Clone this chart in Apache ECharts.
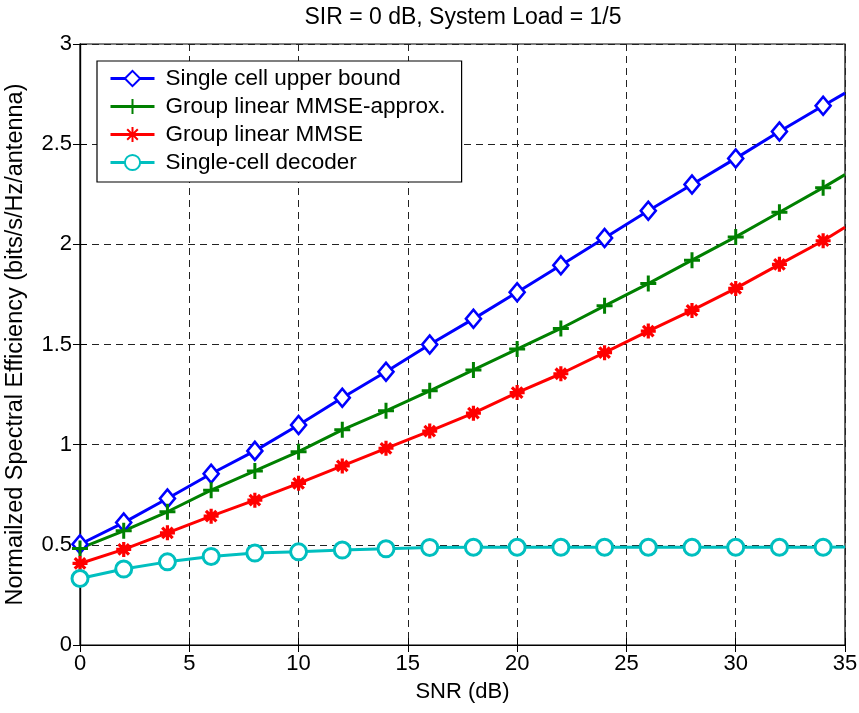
<!DOCTYPE html>
<html>
<head>
<meta charset="utf-8">
<script src="https://cdn.jsdelivr.net/npm/echarts@6/dist/echarts.min.js"></script>
<style>
  html, body { margin: 0; padding: 0; background: #fff; }
  #chart { width: 859px; height: 713px; }
</style>
</head>
<body>
<div id="chart"></div>
<script>
// SNR points (dB); markers every 2 dB, curves run on to 35 dB
const snr = [0, 2, 4, 6, 8, 10, 12, 14, 16, 18, 20, 22, 24, 26, 28, 30, 32, 34, 35];

const upperBound = [0.503, 0.611, 0.731, 0.855, 0.969, 1.098, 1.234, 1.364, 1.500, 1.628,
                    1.761, 1.896, 2.032, 2.168, 2.299, 2.429, 2.563, 2.692, 2.755];
const mmseApprox = [0.482, 0.570, 0.665, 0.773, 0.869, 0.965, 1.074, 1.169, 1.269, 1.373,
                    1.477, 1.580, 1.693, 1.804, 1.921, 2.037, 2.160, 2.283, 2.348];
const mmse       = [0.407, 0.477, 0.560, 0.643, 0.723, 0.807, 0.894, 0.982, 1.068, 1.157,
                    1.260, 1.354, 1.459, 1.567, 1.670, 1.780, 1.900, 2.018, 2.085];
const singleCell = [0.332, 0.379, 0.415, 0.442, 0.459, 0.465, 0.474, 0.480, 0.487, 0.488,
                    0.488, 0.488, 0.488, 0.488, 0.488, 0.488, 0.488, 0.488, 0.489];

const seriesNames = ['Single cell upper bound', 'Group linear MMSE-approx.', 'Group linear MMSE', 'Single-cell decoder'];
const xTicks = { min: 0, max: 35, interval: 5 };
const yTicks = { min: 0, max: 3, interval: 0.5 };

const FONT = 'Liberation Sans, Arial, sans-serif';
const PLUS = 'path://M6,0L6,12M0,6L12,6';
const STAR = 'path://M6,0L6,12M0,6L12,6M1.8,1.8L10.2,10.2M10.2,1.8L1.8,10.2';

function pairs(ys) {
  return snr.map((x, i) => {
    const item = { value: [x, ys[i]] };
    if (x % 2 !== 0) item.symbol = 'none';
    return item;
  });
}

function lineSeries(name, ys, color, symbol, size, fill, border) {
  return {
    name: name,
    type: 'line',
    data: pairs(ys),
    symbol: symbol,
    symbolSize: size,
    showAllSymbol: true,
    lineStyle: { color: color, width: 3 },
    itemStyle: { color: fill, borderColor: color, borderWidth: border },
    emphasis: { disabled: true },
    animation: false,
    z: 3
  };
}

const chart = echarts.init(document.getElementById('chart'), null, { renderer: 'canvas' });

const gridLine = { show: true, lineStyle: { color: '#222', width: 1, type: [7, 5] } };
const blackAxis = { show: true, lineStyle: { color: '#000', width: 1.2 } };

chart.setOption({
  backgroundColor: '#fff',
  animation: false,
  title: {
    text: 'SIR = 0 dB, System Load = 1/5',
    left: 458, top: 1, textAlign: 'center',
    textStyle: { fontFamily: FONT, fontSize: 23, fontWeight: 'normal', color: '#000' }
  },
  grid: {
    left: 80, right: 14, top: 44, bottom: 68,
    outerBoundsMode: 'none', containLabel: false,
    show: true, borderColor: '#000', borderWidth: 1.2, backgroundColor: '#fff'
  },
  legend: {
    orient: 'vertical',
    left: 97, top: 61,
    backgroundColor: '#fff',
    borderColor: '#000', borderWidth: 1.2,
    padding: [6, 16, 8, 12],
    itemWidth: 44, itemHeight: 19, itemGap: 5,
    lineStyle: { width: 3 },
    textStyle: { fontFamily: FONT, fontSize: 22.5, color: '#000', padding: [0, 0, 0, 6] },
    data: seriesNames
  },
  xAxis: [{
    type: 'value', min: xTicks.min, max: xTicks.max, interval: xTicks.interval,
    name: 'SNR (dB)', nameLocation: 'middle', nameGap: 36,
    nameTextStyle: { fontFamily: FONT, fontSize: 22, color: '#000' },
    axisLine: blackAxis,
    axisTick: { show: true, inside: true, length: 7, lineStyle: { color: '#000' } },
    axisLabel: { fontFamily: FONT, fontSize: 22, color: '#000', margin: 8 },
    splitLine: gridLine
  }, {
    type: 'value', position: 'top', min: xTicks.min, max: xTicks.max, interval: xTicks.interval,
    axisLine: blackAxis,
    axisTick: { show: true, inside: true, length: 7, lineStyle: { color: '#000' } },
    axisLabel: { show: false }, splitLine: { show: false }
  }],
  yAxis: [{
    type: 'value', min: yTicks.min, max: yTicks.max, interval: yTicks.interval,
    name: 'Normailzed Spectral Efficiency (bits/s/Hz/antenna)', nameLocation: 'middle', nameGap: 52,
    nameTextStyle: { fontFamily: FONT, fontSize: 23.5, color: '#000' },
    axisLine: blackAxis,
    axisTick: { show: true, inside: true, length: 7, lineStyle: { color: '#000' } },
    axisLabel: { fontFamily: FONT, fontSize: 22, color: '#000', margin: 8 },
    splitLine: gridLine
  }, {
    type: 'value', position: 'right', min: yTicks.min, max: yTicks.max, interval: yTicks.interval,
    axisLine: blackAxis,
    axisTick: { show: true, inside: true, length: 7, lineStyle: { color: '#000' } },
    axisLabel: { show: false }, splitLine: { show: false }
  }],
  series: [
    lineSeries(seriesNames[0], upperBound, '#0000ff', 'diamond', [15, 18], '#fff', 2.6),
    lineSeries(seriesNames[1], mmseApprox, '#008000', PLUS, 16, 'rgba(0,0,0,0)', 3),
    lineSeries(seriesNames[2], mmse, '#ff0000', STAR, 15, 'rgba(0,0,0,0)', 3.2),
    lineSeries(seriesNames[3], singleCell, '#00bfbf', 'circle', 16, '#fff', 3)
  ]
});
</script>
</body>
</html>
